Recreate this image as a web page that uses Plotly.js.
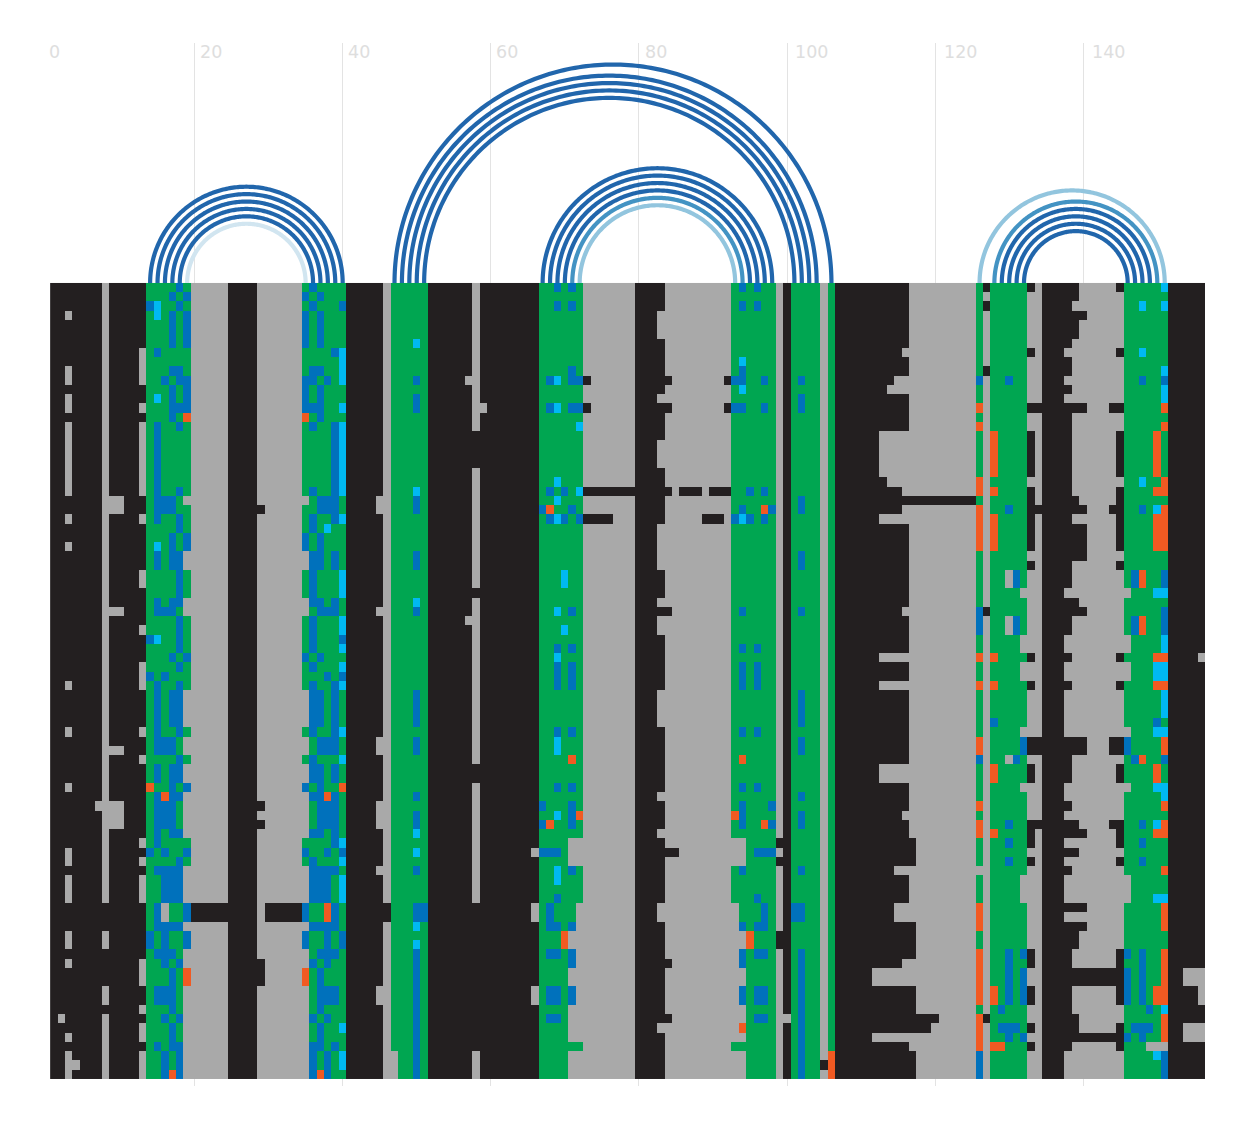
<!DOCTYPE html>
<html><head><meta charset="utf-8">
<script src="https://cdn.plot.ly/plotly-3.0.1.min.js"></script>
<style>html,body{margin:0;padding:0;background:#fff}</style></head>
<body><div id="chart" style="width:1248px;height:1128px"></div>
<script>
// Cell classes: K black, G grey, g green, b blue, c cyan, o orange
const classNames = ['K','G','g','b','c','o'];
const classColors = ['#231f20','#a9a9a9','#00a651','#0071bc','#00b9f2','#f15a22'];
const tickValues = [0,20,40,60,80,100,120,140];
// most common class along each alignment column, as runs
const baseRuns = 'K7 G1 K5 g6 G5 K4 G6 g6 K5 G1 g5 K6 G1 K8 g6 G7 K3 G10 g6 G1 K1 g4 G1 g1 K10 G9 g1 G1 g5 G2 K3 G8 g6 K5';
// last black column of three variable blocks, one value per row
const midBlackEnd = [83,83,83,82,82,82,83,83,83,83, 84,83,82,84,83,83,83,82,82,82,
 83,83,84,83,83,83,82,82,82,82, 82,83,83,83,82,84,82,82,83,83,
 83,83,83,83,82,82,82,82,83,83, 83,83,83,83,83,82,83,83,83,82,
 83,85,83,83,83,83,83,82,82,83, 83,83,83,84,83,83,83,83,83,84, 82,83,83,83,83,83];
const gapBlackEnd = [116,116,116,116,116,116,116,115,116,116, 114,113,116,116,116,116,112,112,112,112,
 112,113,115,125,115,112,116,116,116,116, 116,116,116,116,116,115,116,116,116,116,
 112,116,116,112,116,116,116,116,116,116, 116,116,112,112,116,116,116,115,116,116,
 117,117,117,114,116,116,116,114,114,117, 117,117,117,115,111,111,117,117,117,120, 119,111,116,117,117,117];
const rightBlackEnd = [139,139,138,140,139,139,138,137,138,138, 137,138,137,140,138,138,138,138,138,138,
 138,138,138,139,140,138,140,140,140,140, 138,138,138,137,139,140,138,138,137,137,
 138,137,137,138,137,137,137,137,137,140, 140,138,138,138,137,137,138,137,139,140,
 137,139,137,138,137,137,137,140,137,140, 139,139,138,138,145,145,138,138,138,139, 139,145,138,137,137,137];
// single columns: [column, class, rows]
const columnCells = [
 [2,'G','80'],[3,'G','4 10-11 13-14 16-23 26 29 44 49 55 62-63 65-67 71-72 74 82 84-86'],[4,'G','85'],
 [7,'G','57'],[8,'K','68-70 73-76 79'],[9,'G','24-25 36 51 57-59'],[10,'G','24-25 36 51 57-59'],
 [13,'G','8-11 14 16-23 26 32-33 38 42-44 49 52 61 63 65-67 74-76 79 81-82 84-86'],
 [29,'K','25 57 59 74-76'],
 [45,'G','24-25 36 50-51 57-59 64 77-78'],[46,'K','68-69'],[47,'G','84-86'],
 [50,'c','7 23 35 60 62 70 72'],[50,'b','11 13-14 24-25 30-31 36 45-48 50-51 56 58-59 64 68-69 73-86'],[51,'b','68-69'],
 [57,'G','11 37'],[58,'K','17-20 34 53-54 68-83'],[59,'G','14'],
];
// other cells, row by row
const rowCells = [
 '18b 36b 69b 71b 94b 96b 127K 133K 145K 151c',
 '17b 19b 35b 37b',
 '14b 15c 18b 36b 40b 69b 71b 94b 96b 127K 148c 151c',
 '15c 17b 19b 35b 37b',
 '17b 19b 35b 37b',
 '17b 19b 35b 37b',
 '17b 19b 35b 37b',
 '15b 39b 40c 133K 145K 148c',
 '40c 94c',
 '17-18b 36-37b 40c 71b 94b 127K 151c',
 '16b 18-19b 35-36b 38b 40c 68b 69c 71-72b 73K 92K 93-94b 97b 102b 126b 130b 148b 151b',
 '17b 19b 35b 37b 94c 151c',
 '15c 17b 19b 35b 37b 102b 151c',
 '17-19b 35-37b 40c 68b 69c 71-72b 73K 92K 93-94b 97b 102b 126o 133-134K 144-145K 151o',
 '17b 19o 35o 37b',
 '15b 18b 36b 39b 40c 72c 126o 151o',
 '15b 39b 40c 128o 133K 145K 150o',
 '15b 39b 40c 128o 133K 145K 150o',
 '15b 39b 40c 128o 133K 145K 150o',
 '15b 39b 40c 128o 133K 145K 150o',
 '15b 39b 40c 128o 133K 145K 150o',
 '15b 39b 40c 69c 126o 148c 151o',
 '15b 18b 36b 39b 40c 68b 70b 72c 73-79K 86-88K 90-92K 95b 97b 126o 128o 133K 145K 150-151o',
 '15-17b 19G 35G 37-39b 69c 102b 133K 145K',
 '15-17b 37-39b 67b 68o 71b 94b 97o 98b 102b 126o 130b 133-134K 144-145K 148b 150c 151o',
 '15b 18b 36b 39b 40c 68b 69c 70b 72b 73-76K 89-91K 93b 94c 95b 97b 126o 128o 133K 145K 150-151o',
 '18b 36b 38c 126o 128o 133K 145K 150-151o',
 '17b 19b 35b 37b 126o 128o 133K 145K 150-151o',
 '15c 17b 19b 35b 37b 126o 128o 133K 145K 150-151o',
 '15b 17-18b 19G 35G 36-37b 39b 102b',
 '15b 17-18b 19G 35G 36-37b 39b 102b 133K 145K',
 '18b 36b 40c 70c 130G 131b 147b 148o 151b',
 '18b 36b 40c 70c 130G 131b 147b 148o 151b',
 '18b 36b 40c 132G 146G 150-151c',
 '15b 17-18b 19G 35G 36-37b 39b',
 '15-17b 19G 35G 37-39b 69c 71b 94b 102b 126b 127K 151b',
 '18b 36b 40c 126b 130G 131b 147b 148o 151b',
 '18b 36b 40c 70c 126b 130G 131b 147b 148o 151b',
 '14b 15c 18b 36b 40b 132G 146G 151c',
 '18b 36b 40c 69b 71b 94b 96b 132G 146G 151c',
 '17b 19b 35b 37b 69c 126o 128o 133K 145K 150-151o 156G',
 '18b 36b 40c 69b 71b 94b 96b 132G 146G 150-151c',
 '14b 16b 38b 40b 69b 71b 94b 96b 132G 146G 150-151c',
 '15b 18b 36b 39b 40c 69b 71b 94b 96b 126o 128o 133K 145K 150-151o',
 '15b 17-18b 19G 35G 36-37b 39b 102b 151c',
 '15b 17-18b 19G 35G 36-37b 39b 102b 151c',
 '15b 17-18b 19G 35G 36-37b 39b 102b 151c',
 '15b 17-18b 19G 35G 36-37b 39b 102b 128b 150b',
 '15b 18b 36b 39b 40c 69b 71b 94b 96b 132G 146G 150-151c',
 '15-17b 19G 35G 37-39b 69c 102b 126o 132b 133-134K 144-145K 146b 151o',
 '15-17b 19G 35G 37-39b 69c 102b 126o 132b 133-134K 144-145K 146b 151o',
 '18b 36b 40c 71o 94o 126b 130G 131b 147b 148o 151b',
 '15b 17-18b 19G 35G 36-37b 39b 128o 133K 145K 150o',
 '15b 17-18b 19G 35G 36-37b 39b 128o 133K 145K 150o',
 '14o 17b 19b 35b 37b 40o 69b 71b 94b 96b 132G 146G 150-151c',
 '15b 16o 17-18b 19G 35G 36-37b 38o 39b 102b 151c',
 '15-17b 19G 35G 37-39b 67b 71b 94b 98b 126o 151o',
 '15-17b 19G 35G 37-39b 69c 71b 72o 93o 94b 102b',
 '15-17b 19G 35G 37-39b 67b 68o 71b 94b 97o 98b 102b 126o 130b 133-134K 144-145K 148b 150c 151o',
 '15b 17-18b 19G 35G 36-37b 39b 126o 128o 133K 145K 150-151o',
 '15b 39b 40c 71-72G 93-94G 99K 130b 133K 145K 148b',
 '14b 16b 19b 35b 38b 40b 66G 67-69b 71-72G 93-94G 96-98b',
 '18b 36b 40c 71-72G 93-94G 99K 130b 133K 145K 148b',
 '15-18b 19G 35G 36-39b 69c 71b 94b 102b 126G 151o',
 '16-18b 19G 35G 36-38b 40c 69c 132G 146G',
 '16-18b 19G 35G 36-38b 40c 132G 146G',
 '16-18b 19G 35G 36-38b 40c 69b 96b 132G 146G 150-151c',
 '15b 16G 19b 20-24K 30-34K 35b 38o 39b 66G 68b 72G 93G 97b 101-102b 126o 151o',
 '15b 16G 19b 20-24K 30-34K 35b 38o 39b 66G 68b 72G 93G 97b 101-102b 126o 151o',
 '15-18b 19G 35G 36-39b 68-69b 71b 72G 93G 94b 96-97b 126o 151o',
 '14b 16b 19b 35b 38b 40b 70o 71-72G 93-94G 95o 99K',
 '14b 16b 19b 35b 38b 40b 70o 71-72G 93-94G 95o 99K',
 '15-17b 19G 35G 37-39b 68-69b 71b 72G 93G 94b 96-97b 102b 126o 130b 132b 133K 145K 146b 148b 151o',
 '16b 18b 19G 35G 36b 38b 71b 72G 93G 94b 102b 126o 130b 133K 145K 148b 151o',
 '17b 19o 35o 37b 71-72G 93-94G 102b 126o 130b 132b 146b 148b 151o 154-156G',
 '17b 19o 35o 37b 71-72G 93-94G 102b 126o 130b 132b 146b 148b 151o 154-156G',
 '15-17b 19G 35G 37-39b 66G 68-69b 71b 72G 93G 94b 96-97b 102b 126o 128o 130b 132b 133K 145K 146b 148b 150-151o 156G',
 '15-17b 19G 35G 37-39b 66G 68-69b 71b 72G 93G 94b 96-97b 102b 126o 128o 130b 132b 133K 145K 146b 148b 150-151o 156G',
 '17b 19G 35G 37b 71-72G 93-94G 102b 129b 149b 151c',
 '16b 18b 19G 35G 36b 38b 68-69b 71-72G 93-94G 96-97b 99-100G 102b 126o 127K 151o',
 '17b 19G 35G 37b 40c 71-72G 93G 94o 102b 126o 129-131b 133K 145K 147-149b 151o 154-156G',
 '17b 19G 35G 37b 71-72G 93-94G 102b 126o 130b 132b 146b 148b 151o 154-156G',
 '15b 17-18b 19G 35G 36-37b 39b 102b 126o 128-129o 133K 145K 149-151G',
 '16b 18b 19G 35G 36b 38b 40c 71-72G 93-94G 102b 106o 126b 150c 151b',
 '16b 18b 19G 35G 36b 38b 40c 71-72G 93-94G 102b 105K 106o 126b 151b',
 '16b 17o 18b 19G 35G 36b 37o 38b 71-72G 93-94G 102b 106o 126b 151b'
];
// arcs: paired columns and their shade
const arcStart = [14,15,16,17,18,19, 47,48,49,50,51, 67,68,69,70,71,72, 126,128,129,130,131,132];
const arcEnd   = [40,39,38,37,36,35, 106,104,103,102,101, 98,97,96,95,94,93, 151,150,149,148,147,146];
const arcShade = [0,0,0,0,0,3, 0,0,0,0,0, 0,0,0,0,1,2, 2,1,0,0,0,0];
const shadeColors = ['#2166ac','#4393c3','#92c5de','#d1e5f0'];

// ---- assemble the matrix
const idx = Object.fromEntries(classNames.map((n,i)=>[n,i]));
const base = [];
baseRuns.split(' ').forEach(t=>{const n=+t.slice(1);for(let i=0;i<n;i++)base.push(t[0]);});
const matrix = rowCells.map((s,r)=>{
  const row = base.slice();
  for(let c=83;c<=midBlackEnd[r];c++)row[c-1]='K';
  for(let c=107;c<=125;c++)row[c-1]=c<=gapBlackEnd[r]?'K':'G';
  for(let c=135;c<=rightBlackEnd[r];c++)row[c-1]='K';
  return row;
});
const ranges = s => s.split(' ').flatMap(t=>{const m=t.split('-').map(Number);const a=[];for(let i=m[0];i<=(m[1]||m[0]);i++)a.push(i);return a;});
columnCells.forEach(([c,k,rows])=>ranges(rows).forEach(r=>{matrix[r-1][c-1]=k;}));
rowCells.forEach((s,r)=>s.split(' ').forEach(t=>{
  const m=t.match(/^(\d+)(?:-(\d+))?([KGgbco])$/);
  if(!m)return;
  for(let c=+m[1];c<=(+m[2]||+m[1]);c++)matrix[r][c-1]=m[3];
}));
const z = matrix.map(row=>row.map(k=>idx[k]));
const colIndex = base.map((_,i)=>i+1);
const rowUnit = 1.25;
const rowCentre = z.map((_,r)=>-(r+0.5)*rowUnit);
const n = classColors.length;
const colorscale = classColors.flatMap((col,i)=>[[i/n,col],[(i+1)/n,col]]);

const traces = [{type:'heatmap',x:colIndex,y:rowCentre,z:z,zmin:0,zmax:n,colorscale:colorscale,showscale:false,hoverinfo:'skip'}];
arcStart.forEach((a,i)=>{
  const b=arcEnd[i], mid=(a+b)/2, rad=(b-a)/2, xs=[], ys=[];
  for(let k=0;k<=180;k++){const t=Math.PI*k/180;xs.push(mid-rad*Math.cos(t));ys.push(rad*Math.sin(t));}
  traces.push({type:'scatter',mode:'lines',x:xs,y:ys,line:{color:shadeColors[arcShade[i]],width:4.2,simplify:false},hoverinfo:'skip',showlegend:false,cliponaxis:false});
});

const layout = {
  width:1248,height:1128,paper_bgcolor:'#fff',plot_bgcolor:'#fff',showlegend:false,
  margin:{l:46.3,r:43,t:43,b:42,pad:0},
  xaxis:{range:[-0.06,156.44],tickvals:tickValues,showticklabels:false,showgrid:true,gridcolor:'#e3e3e3',gridwidth:1,zeroline:false,showline:false,ticks:''},
  yaxis:{range:[-108.45,32.41],showgrid:false,zeroline:false,showticklabels:false,showline:false,ticks:''},
  annotations:tickValues.map(v=>({x:v,xref:'x',xanchor:'center',xshift:8.3*String(v).length,y:1,yref:'paper',yanchor:'top',yshift:3,showarrow:false,text:String(v),font:{family:'DejaVu Sans',size:17.5,color:'#dedede'}}))
};
Plotly.newPlot('chart',traces,layout,{staticPlot:true,displayModeBar:false});
</script></body></html>
